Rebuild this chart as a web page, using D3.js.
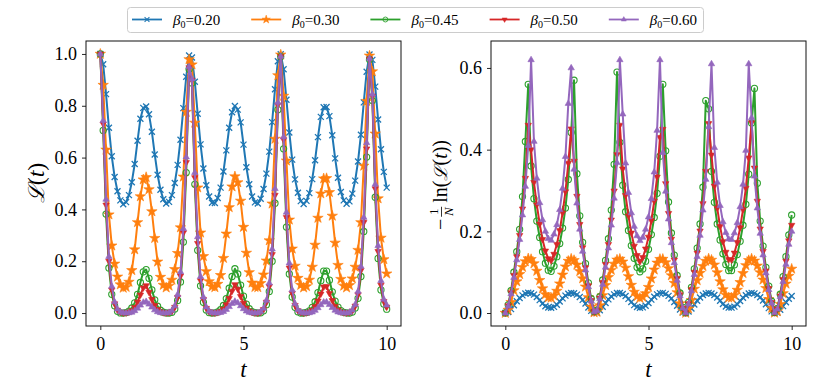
<!DOCTYPE html>
<html>
<head>
<meta charset="utf-8">
<script src="https://cdn.jsdelivr.net/npm/d3@7"></script>
<style>
body { margin: 0; background: #fff; }
text { font-family: "Liberation Serif", "DejaVu Serif", serif; fill: #000; }
</style>
</head>
<body>
<script>
// time grid (x values)
var tVals = [0,0.1,0.2,0.3,0.4,0.5,0.6,0.7,0.8,0.9,1,1.1,1.2,1.3,1.4,1.5,1.6,1.7,1.8,1.9,2,2.1,2.2,2.3,2.4,2.5,2.6,2.7,2.8,2.9,3,3.1,3.2,3.3,3.4,3.5,3.6,3.7,3.8,3.9,4,4.1,4.2,4.3,4.4,4.5,4.6,4.7,4.8,4.9,5,5.1,5.2,5.3,5.4,5.5,5.6,5.7,5.8,5.9,6,6.1,6.2,6.3,6.4,6.5,6.6,6.7,6.8,6.9,7,7.1,7.2,7.3,7.4,7.5,7.6,7.7,7.8,7.9,8,8.1,8.2,8.3,8.4,8.5,8.6,8.7,8.8,8.9,9,9.1,9.2,9.3,9.4,9.5,9.6,9.7,9.8,9.9,10];

var betaLabels = ["0.20", "0.30", "0.45", "0.50", "0.60"];

// left panel: L(t)
var echo020 = [1.000,0.960,0.845,0.715,0.605,0.525,0.470,0.435,0.420,0.428,0.455,0.505,0.575,0.665,0.750,0.792,0.797,0.767,0.700,0.612,0.534,0.476,0.439,0.423,0.429,0.455,0.502,0.572,0.669,0.791,0.912,0.994,0.986,0.893,0.769,0.651,0.558,0.493,0.450,0.426,0.425,0.444,0.484,0.546,0.628,0.715,0.775,0.799,0.785,0.736,0.650,0.563,0.497,0.450,0.427,0.423,0.441,0.479,0.538,0.623,0.737,0.864,0.972,0.999,0.941,0.823,0.697,0.592,0.516,0.464,0.432,0.421,0.433,0.463,0.517,0.590,0.679,0.757,0.794,0.795,0.760,0.686,0.597,0.522,0.467,0.435,0.422,0.431,0.461,0.511,0.585,0.688,0.813,0.931,0.998,0.977,0.874,0.747,0.632,0.545,0.484];
var echo030 = [1.000,0.880,0.630,0.380,0.260,0.190,0.140,0.110,0.097,0.100,0.120,0.165,0.245,0.350,0.450,0.515,0.524,0.477,0.392,0.289,0.198,0.139,0.108,0.098,0.105,0.128,0.169,0.231,0.330,0.526,0.776,0.979,0.959,0.734,0.484,0.310,0.219,0.161,0.122,0.102,0.099,0.112,0.146,0.212,0.306,0.408,0.488,0.527,0.504,0.433,0.332,0.232,0.157,0.117,0.100,0.099,0.115,0.148,0.202,0.280,0.422,0.672,0.917,0.997,0.838,0.588,0.360,0.248,0.182,0.135,0.108,0.098,0.103,0.128,0.178,0.263,0.367,0.461,0.519,0.520,0.466,0.375,0.271,0.185,0.131,0.105,0.098,0.107,0.133,0.178,0.243,0.350,0.568,0.818,0.993,0.932,0.692,0.442,0.290,0.207,0.152];
var echo045 = [1.000,0.705,0.382,0.174,0.0724,0.0277,0.0068,0.0006,0.0000,0.0018,0.0074,0.0195,0.0393,0.0724,0.118,0.159,0.168,0.134,0.0894,0.051,0.0262,0.0111,0.0033,0.0004,0.0000,0.0026,0.0155,0.0484,0.120,0.274,0.542,0.941,0.888,0.497,0.242,0.105,0.0414,0.0122,0.0017,0.0000,0.0007,0.0042,0.0130,0.0292,0.0557,0.0958,0.141,0.171,0.151,0.108,0.0652,0.0347,0.0167,0.0059,0.0012,0.0000,0.0010,0.0086,0.0324,0.0833,0.200,0.424,0.785,0.990,0.634,0.332,0.151,0.0619,0.0220,0.0046,0.0001,0.0002,0.0023,0.0087,0.0220,0.0436,0.079,0.125,0.162,0.162,0.127,0.082,0.046,0.0232,0.0095,0.0026,0.0003,0.0000,0.0038,0.0195,0.0567,0.141,0.315,0.602,0.979,0.820,0.447,0.211,0.0894,0.0353,0.0150];
var echo050 = [1.000,0.730,0.417,0.200,0.0894,0.0360,0.0115,0.0031,0.0003,0.0009,0.0037,0.0097,0.0220,0.0429,0.0699,0.0975,0.106,0.0805,0.0529,0.0292,0.0137,0.0055,0.0016,0.0004,0.0015,0.0067,0.0224,0.0608,0.143,0.310,0.581,0.947,0.899,0.523,0.269,0.125,0.0529,0.0185,0.0053,0.0011,0.0003,0.0021,0.0065,0.0155,0.0324,0.0567,0.0848,0.110,0.0926,0.0641,0.0386,0.0192,0.0083,0.0029,0.0005,0.0004,0.0039,0.0140,0.0421,0.103,0.226,0.455,0.803,0.990,0.669,0.369,0.174,0.0763,0.0297,0.0092,0.0023,0.0003,0.0011,0.0043,0.0111,0.0245,0.0468,0.0737,0.101,0.103,0.0763,0.0484,0.0258,0.0119,0.0047,0.0013,0.0003,0.0020,0.0083,0.0272,0.0712,0.165,0.350,0.634,0.981,0.837,0.480,0.238,0.108,0.0452,0.0232];
var echo060 = [1.000,0.743,0.439,0.218,0.103,0.0429,0.0150,0.0044,0.0008,0.0000,0.0006,0.0031,0.0089,0.0185,0.0302,0.0414,0.0444,0.0341,0.0228,0.0119,0.0048,0.0012,0.0001,0.0000,0.0021,0.0090,0.0277,0.0712,0.159,0.326,0.602,0.951,0.903,0.542,0.294,0.141,0.0619,0.0232,0.0073,0.0016,0.0000,0.0002,0.0016,0.0057,0.0137,0.0245,0.0366,0.0452,0.0393,0.0277,0.0164,0.0074,0.0024,0.0004,0.0000,0.0010,0.0054,0.0179,0.0493,0.116,0.247,0.480,0.813,0.991,0.680,0.389,0.193,0.0894,0.0360,0.0122,0.0033,0.0003,0.0000,0.0008,0.0037,0.0100,0.0202,0.0318,0.0421,0.0429,0.0324,0.0209,0.0106,0.0040,0.0009,0.0000,0.0002,0.0028,0.0111,0.0330,0.0833,0.180,0.369,0.657,0.983,0.845,0.497,0.260,0.125,0.0529,0.0302];

// right panel: -(1/N) ln L(t)
var rate020 = [0,0.0023,0.0096,0.0192,0.0287,0.0368,0.0431,0.0476,0.0496,0.0485,0.0450,0.0390,0.0316,0.0233,0.0164,0.0133,0.0130,0.0151,0.0204,0.0281,0.0359,0.0425,0.0470,0.0491,0.0484,0.0450,0.0394,0.0321,0.0232,0.0136,0.0053,0.0004,0.0008,0.0066,0.0152,0.0247,0.0334,0.0405,0.0457,0.0488,0.0490,0.0465,0.0415,0.0347,0.0268,0.0193,0.0146,0.0129,0.0138,0.0176,0.0247,0.0328,0.0400,0.0456,0.0487,0.0493,0.0468,0.0420,0.0354,0.0271,0.0176,0.0084,0.0016,0.0001,0.0035,0.0112,0.0208,0.0301,0.0379,0.0439,0.0479,0.0494,0.0479,0.0440,0.0378,0.0302,0.0221,0.0159,0.0132,0.0132,0.0156,0.0216,0.0295,0.0372,0.0435,0.0476,0.0493,0.0481,0.0442,0.0384,0.0307,0.0216,0.0120,0.0041,0.0001,0.0013,0.0078,0.0168,0.0263,0.0348,0.0415];
var rate030 = [0,0.0073,0.0264,0.0553,0.0770,0.0949,0.1123,0.1261,0.1333,0.1316,0.1212,0.1030,0.0804,0.0600,0.0456,0.0379,0.0370,0.0424,0.0540,0.0719,0.0936,0.1136,0.1273,0.1326,0.1291,0.1180,0.1021,0.0844,0.0643,0.0384,0.0152,0.0013,0.0025,0.0185,0.0433,0.0680,0.0875,0.1051,0.1204,0.1303,0.1323,0.1255,0.1106,0.0898,0.0685,0.0516,0.0411,0.0366,0.0392,0.0480,0.0634,0.0842,0.1061,0.1229,0.1319,0.1321,0.1238,0.1094,0.0919,0.0734,0.0504,0.0232,0.0051,0.0002,0.0105,0.0313,0.0589,0.0800,0.0978,0.1146,0.1273,0.1330,0.1299,0.1181,0.0992,0.0770,0.0576,0.0443,0.0375,0.0374,0.0437,0.0564,0.0753,0.0974,0.1167,0.1290,0.1329,0.1279,0.1157,0.0992,0.0814,0.0607,0.0336,0.0120,0.0004,0.0041,0.0217,0.0481,0.0716,0.0905,0.1080];
var rate045 = [0,0.020,0.055,0.100,0.150,0.205,0.285,0.420,0.560,0.360,0.280,0.225,0.185,0.150,0.122,0.105,0.102,0.115,0.138,0.170,0.208,0.257,0.327,0.442,0.570,0.341,0.238,0.173,0.121,0.074,0.035,0.0035,0.0068,0.040,0.081,0.129,0.182,0.252,0.364,0.590,0.418,0.313,0.248,0.202,0.165,0.134,0.112,0.101,0.108,0.127,0.156,0.192,0.234,0.293,0.384,0.560,0.397,0.272,0.196,0.142,0.092,0.049,0.0138,0.0006,0.026,0.063,0.108,0.159,0.218,0.308,0.520,0.500,0.347,0.271,0.218,0.179,0.145,0.119,0.104,0.104,0.118,0.143,0.176,0.215,0.266,0.340,0.465,0.550,0.318,0.225,0.164,0.112,0.066,0.029,0.0012,0.0113,0.046,0.089,0.138,0.191,0.240];
var rate050 = [0,0.018,0.050,0.092,0.138,0.190,0.255,0.330,0.460,0.400,0.320,0.265,0.218,0.180,0.152,0.133,0.128,0.144,0.168,0.202,0.245,0.297,0.367,0.451,0.372,0.286,0.217,0.160,0.111,0.067,0.031,0.0031,0.0061,0.037,0.075,0.119,0.168,0.228,0.299,0.388,0.460,0.353,0.288,0.238,0.196,0.164,0.141,0.126,0.136,0.157,0.186,0.226,0.274,0.333,0.430,0.450,0.317,0.244,0.181,0.130,0.085,0.045,0.0125,0.0005,0.023,0.057,0.100,0.147,0.201,0.268,0.347,0.464,0.387,0.311,0.257,0.212,0.175,0.149,0.131,0.130,0.147,0.173,0.209,0.253,0.306,0.380,0.466,0.355,0.274,0.206,0.151,0.103,0.060,0.026,0.0011,0.0102,0.042,0.082,0.127,0.177,0.215];
var rate060 = [0,0.017,0.047,0.087,0.130,0.180,0.240,0.310,0.410,0.620,0.420,0.330,0.270,0.228,0.200,0.182,0.178,0.193,0.216,0.253,0.305,0.383,0.513,0.600,0.352,0.269,0.205,0.151,0.105,0.064,0.029,0.0029,0.0058,0.035,0.070,0.112,0.159,0.215,0.281,0.368,0.620,0.487,0.367,0.295,0.245,0.212,0.189,0.177,0.185,0.205,0.235,0.280,0.345,0.447,0.620,0.393,0.298,0.230,0.172,0.123,0.080,0.042,0.0118,0.0005,0.022,0.054,0.094,0.138,0.190,0.252,0.327,0.456,0.610,0.405,0.320,0.263,0.223,0.197,0.181,0.180,0.196,0.221,0.260,0.315,0.398,0.610,0.478,0.335,0.257,0.195,0.142,0.098,0.057,0.024,0.0010,0.0096,0.040,0.077,0.119,0.168,0.200];

var xTicks = [0, 5, 10];
var leftYTicks = [0, 0.2, 0.4, 0.6, 0.8, 1.0];
var rightYTicks = [0, 0.2, 0.4, 0.6];

var colors = ["#1f77b4", "#ff7f0e", "#2ca02c", "#d62728", "#9467bd"];
var markers = ["x", "star", "circle", "tridown", "triup"];

var svg = d3.select("body").append("svg")
	.attr("width", 831)
	.attr("height", 386);

function markerPath(kind){ // small marker shapes like matplotlib
	if (kind == "x") return "M-3,-3L3,3M-3,3L3,-3";
	if (kind == "star") return d3.symbol().type(d3.symbolStar).size(34)();
	if (kind == "circle") return d3.symbol().type(d3.symbolCircle).size(30)();
	if (kind == "tridown") return "M0,3.6L3.2,-1.9L-3.2,-1.9Z";
	return "M0,-3.6L3.2,1.9L-3.2,1.9Z";
}

function styleMarker(sel, i){
	var kind = markers[i];
	sel.attr("d", markerPath(kind));
	if (kind == "x"){
		sel.attr("fill", "none").attr("stroke", colors[i]).attr("stroke-width", 1.3);
	}
	else if (kind == "circle"){
		sel.attr("fill", "none").attr("stroke", colors[i]).attr("stroke-width", 1.1);
	}
	else {
		sel.attr("fill", colors[i]).attr("stroke", colors[i]).attr("stroke-width", 0.6);
	}
}

function drawPanel(x0, x1, yDomain, yTicks, seriesList){
	var x = d3.scaleLinear().domain([-0.5, 10.5]).range([x0, x1]);
	var y = d3.scaleLinear().domain(yDomain).range([326, 41]);
	var g = svg.append("g");

	var line = d3.line()
		.x(function(d, i){ return x(tVals[i]); })
		.y(function(d){ return y(d); });

	seriesList.forEach(function(vals, i){
		g.append("path")
			.attr("d", line(vals))
			.attr("fill", "none")
			.attr("stroke", colors[i])
			.attr("stroke-width", 2)
			.attr("stroke-linejoin", "round");
		g.append("g").selectAll("path")
			.data(vals)
			.enter()
			.append("path")
			.attr("transform", function(d, j){ return "translate(" + x(tVals[j]) + "," + y(d) + ")"; })
			.call(styleMarker, i);
	});

	// frame
	g.append("rect")
		.attr("x", x0).attr("y", 41)
		.attr("width", x1 - x0).attr("height", 285)
		.attr("fill", "none").attr("stroke", "#111").attr("stroke-width", 1);

	var xAxis = g.append("g").attr("transform", "translate(0,326)")
		.call(d3.axisBottom(x).tickValues(xTicks).tickSize(4).tickPadding(7).tickFormat(d3.format("d")));
	var yAxis = g.append("g").attr("transform", "translate(" + x0 + ",0)")
		.call(d3.axisLeft(y).tickValues(yTicks).tickSize(4).tickPadding(5).tickFormat(d3.format(".1f")));
	[xAxis, yAxis].forEach(function(a){
		a.select(".domain").remove();
		a.selectAll("line").attr("stroke", "#111").attr("stroke-width", 0.9);
		a.selectAll("text").attr("font-size", "18px").attr("fill", "#000")
			.style("font-family", "'Liberation Serif', serif");
	});

	// x label
	g.append("text")
		.attr("x", x(5)).attr("y", 377)
		.attr("text-anchor", "middle")
		.attr("font-size", "23px")
		.attr("font-style", "italic")
		.text("t");
	return g;
}

drawPanel(86, 401, [-0.05, 1.05], leftYTicks, [echo020, echo030, echo045, echo050, echo060]);
drawPanel(491, 806, [-0.0318, 0.666], rightYTicks, [rate020, rate030, rate045, rate050, rate060]);

// left y label  L(t)
var lab1 = svg.append("text")
	.attr("transform", "translate(44,183) rotate(-90)")
	.attr("text-anchor", "middle")
	.attr("font-size", "24px");
lab1.append("tspan").attr("font-style", "italic").style("font-family", "'DejaVu Serif', serif").attr("font-size", "22px").text("\u2112");
lab1.append("tspan").text("(");
lab1.append("tspan").attr("font-style", "italic").text("t");
lab1.append("tspan").text(")");

// right y label  -(1/N) ln(L(t)), laid out piece by piece
var lab2 = svg.append("g").attr("transform", "translate(447,185) rotate(-90)");
var cursor = 0;
var minus = lab2.append("text").attr("x", cursor).attr("y", 0).attr("font-size", "20px").text("\u2212");
cursor += minus.node().getComputedTextLength() + 2;
var one = lab2.append("text").attr("x", cursor + 5).attr("y", -9).attr("text-anchor", "middle").attr("font-size", "13px").text("1");
var enn = lab2.append("text").attr("x", cursor + 5).attr("y", 6).attr("text-anchor", "middle").attr("font-size", "13px").attr("font-style", "italic").text("N");
lab2.append("line").attr("x1", cursor).attr("x2", cursor + 10).attr("y1", -5.5).attr("y2", -5.5).attr("stroke", "#000").attr("stroke-width", 0.8);
cursor += 14;
var rest = lab2.append("text").attr("x", cursor).attr("y", 0).attr("font-size", "20px");
rest.append("tspan").text("ln(");
rest.append("tspan").attr("font-style", "italic").style("font-family", "'DejaVu Serif', serif").attr("font-size", "18px").text("\u2112");
rest.append("tspan").text("(");
rest.append("tspan").attr("font-style", "italic").text("t");
rest.append("tspan").text("))");
cursor += rest.node().getComputedTextLength();
lab2.attr("transform", "translate(447," + (185 + cursor / 2) + ") rotate(-90)");

// legend
var legend = svg.append("g");
legend.append("rect")
	.attr("x", 127.5).attr("y", 7.5)
	.attr("width", 576).attr("height", 25)
	.attr("rx", 3)
	.attr("fill", "#fff").attr("stroke", "#ccc").attr("stroke-width", 1);

betaLabels.forEach(function(lab, i){
	var lx = 132 + i * 119.2;
	var item = legend.append("g");
	item.append("line")
		.attr("x1", lx).attr("x2", lx + 30)
		.attr("y1", 19.5).attr("y2", 19.5)
		.attr("stroke", colors[i]).attr("stroke-width", 1.8);
	item.append("path")
		.attr("transform", "translate(" + (lx + 15) + ",19.5) scale(0.8)")
		.call(styleMarker, i);
	var tx = item.append("text")
		.attr("x", lx + 41).attr("y", 25)
		.attr("font-size", "15px");
	tx.append("tspan").attr("font-style", "italic").text("\u03b2");
	tx.append("tspan").attr("font-size", "10px").attr("dy", 3).text("0");
	tx.append("tspan").attr("dy", -3).text("=" + lab);
});
</script>
</body>
</html>
